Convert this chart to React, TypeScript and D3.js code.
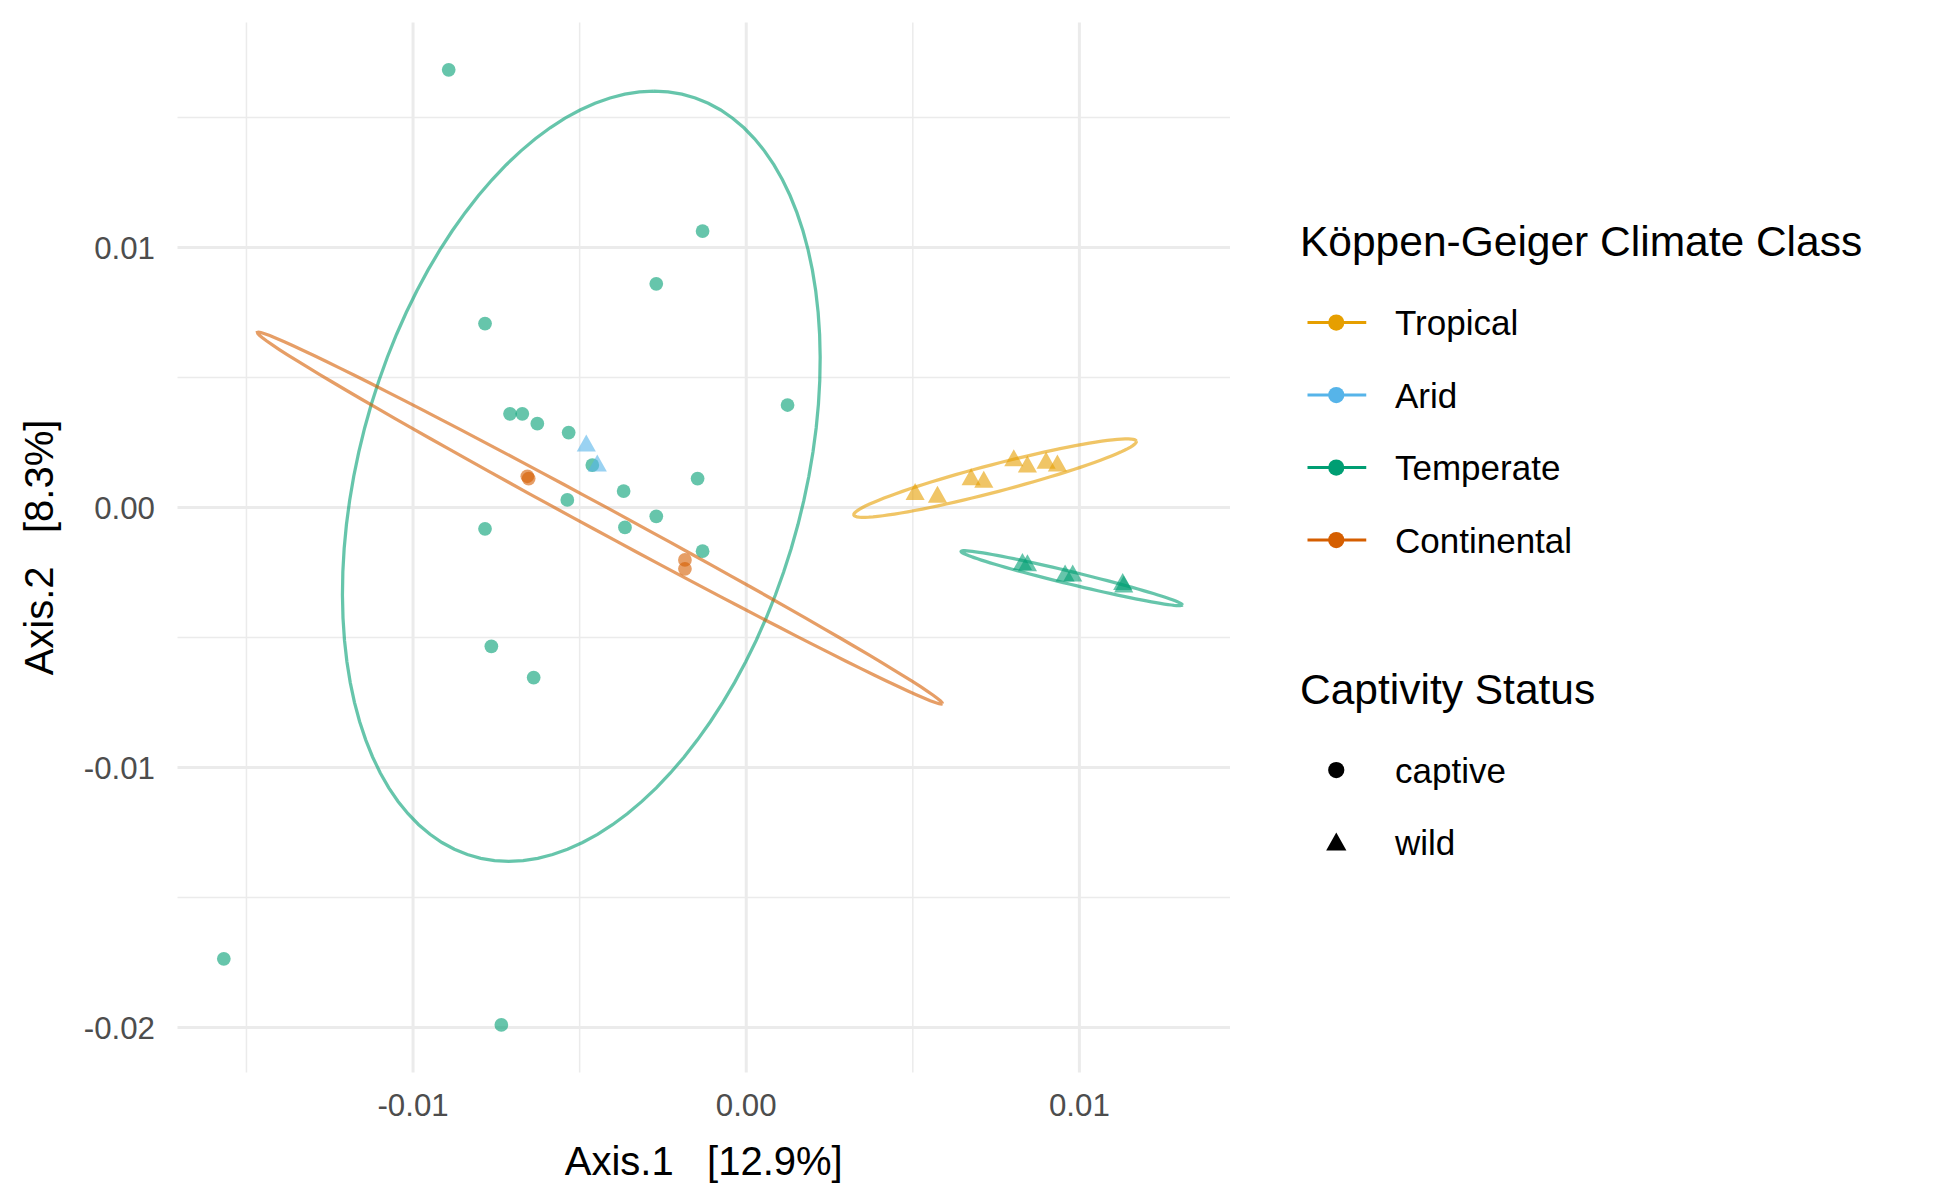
import React from "react";
import * as d3 from "d3";

const xTicks = [-0.01, 0, 0.01];
const xTickLabels = ["-0.01", "0.00", "0.01"];
const yTicks = [0.01, 0, -0.01, -0.02];
const yTickLabels = ["0.01", "0.00", "-0.01", "-0.02"];
const xMinor = [-0.015, -0.005, 0.005];
const yMinor = [0.015, 0.005, -0.005, -0.015];

const climates = ["Tropical", "Arid", "Temperate", "Continental"];
const climateColors = ["#E69F00", "#56B4E9", "#009E73", "#D55E00"];

const temperateCaptive = [
  [-0.00893, 0.01683], [-0.00131, 0.01063], [-0.0027, 0.0086], [-0.00784, 0.00707],
  [0.00124, 0.00394], [-0.00709, 0.0036], [-0.00672, 0.0036], [-0.00627, 0.00322],
  [-0.00533, 0.00288], [-0.00462, 0.00163], [-0.00146, 0.00111], [-0.00368, 0.00063],
  [-0.00537, 0.00029], [-0.0027, -0.00034], [-0.00364, -0.00077], [-0.00784, -0.00082],
  [-0.00131, -0.00168], [-0.00765, -0.00534], [-0.00638, -0.00654], [-0.01568, -0.01736],
  [-0.00735, -0.0199],
];
const continentalCaptive = [[-0.00653, 0.00111], [-0.00657, 0.0012], [-0.00184, -0.00202], [-0.00184, -0.00236]];
const aridWild = [[-0.0048, 0.0024], [-0.00447, 0.00163]];
const tropicalWild = [
  [0.00507, 0.00053], [0.00574, 0.00043], [0.00675, 0.0011], [0.00713, 0.001],
  [0.00803, 0.00183], [0.00844, 0.00159], [0.009, 0.00173], [0.00934, 0.00163],
];
const temperateWild = [
  [0.00829, -0.00216], [0.00844, -0.00221], [0.00957, -0.0026], [0.0098, -0.0026],
  [0.0113, -0.00293], [0.01133, -0.00303],
];

const ellipseCenters = [[-0.00495, 0.0012], [-0.00439, -0.00041], [0.00747, 0.00113], [0.00977, -0.00272]];
const ellipseA = [[0.00218, 0.01481], [0.01028, -0.00714], [0.00424, 0.00142], [0.00332, -0.00103]];
const ellipseB = [[0.00683, 0], [-0.00018, -0.00042], [0.000104, -0.00051], [-0.000044, -0.000234]];
const ellipseColors = ["#009E73", "#D55E00", "#E69F00", "#009E73"];

export default function App() {
  const x = d3.scaleLinear().domain([-0.01707, 0.01452]).range([146, 988]);
  const y = d3.scaleLinear().domain([0.01865, -0.02173]).range([18, 858]);
  const font = "Liberation Sans, Arial, sans-serif";
  const line = d3.line<[number, number]>().x((d) => x(d[0])).y((d) => y(d[1]));

  const ellipsePath = (i: number) => {
    const pts: [number, number][] = d3.range(0, 101).map((k) => {
      const t = (k / 100) * 2 * Math.PI;
      return [
        ellipseCenters[i][0] + ellipseA[i][0] * Math.cos(t) + ellipseB[i][0] * Math.sin(t),
        ellipseCenters[i][1] + ellipseA[i][1] * Math.cos(t) + ellipseB[i][1] * Math.sin(t),
      ];
    });
    return line(pts) || "";
  };

  const tri = (cx: number, cy: number, s: number) =>
    `M${cx},${cy - s}L${cx + s * 0.9},${cy + s * 0.6}L${cx - s * 0.9},${cy + s * 0.6}Z`;

  const circles = (arr: number[][], color: string) =>
    arr.map((d, i) => <circle key={color + i} cx={x(d[0])} cy={y(d[1])} r={5.5} fill={color} fillOpacity={0.6} />);
  const tris = (arr: number[][], color: string) =>
    arr.map((d, i) => <path key={color + "t" + i} d={tri(x(d[0]), y(d[1]), 8.5)} fill={color} fillOpacity={0.6} />);

  return (
    <svg width={1950} height={1200} viewBox="4 0 1560 960" style={{ display: "block", margin: "-8px" }} fontFamily={font}>
      <rect x={0} width={1570} height={960} fill="white" />
      {xMinor.map((v) => <line key={"xm" + v} x1={x(v)} x2={x(v)} y1={18} y2={858} stroke="#ebebeb" strokeWidth={1.2} />)}
      {yMinor.map((v) => <line key={"ym" + v} y1={y(v)} y2={y(v)} x1={146} x2={988} stroke="#ebebeb" strokeWidth={1.2} />)}
      {xTicks.map((v) => <line key={"x" + v} x1={x(v)} x2={x(v)} y1={18} y2={858} stroke="#ebebeb" strokeWidth={2.4} />)}
      {yTicks.map((v) => <line key={"y" + v} y1={y(v)} y2={y(v)} x1={146} x2={988} stroke="#ebebeb" strokeWidth={2.4} />)}
      {xTicks.map((v, i) => (
        <text key={"xl" + v} x={x(v)} y={893} textAnchor="middle" fontSize={25} fill="#4d4d4d">{xTickLabels[i]}</text>
      ))}
      {yTicks.map((v, i) => (
        <text key={"yl" + v} x={128} y={y(v) + 9} textAnchor="end" fontSize={25} fill="#4d4d4d">{yTickLabels[i]}</text>
      ))}
      <text x={567} y={940} textAnchor="middle" fontSize={32} style={{ whiteSpace: "pre" }}>{"Axis.1   [12.9%]"}</text>
      <text transform="translate(46,438) rotate(-90)" textAnchor="middle" fontSize={32} style={{ whiteSpace: "pre" }}>{"Axis.2   [8.3%]"}</text>

      {ellipseCenters.map((_, i) => (
        <path key={"e" + i} d={ellipsePath(i)} fill="none" stroke={ellipseColors[i]} strokeOpacity={0.6} strokeWidth={2.6} />
      ))}
      {circles(temperateCaptive, climateColors[2])}
      {circles(continentalCaptive, climateColors[3])}
      {tris(aridWild, climateColors[1])}
      {tris(tropicalWild, climateColors[0])}
      {tris(temperateWild, climateColors[2])}

      <text x={1044} y={205} fontSize={34}>Köppen-Geiger Climate Class</text>
      {climates.map((c, i) => (
        <g key={c} transform={`translate(0,${258 + i * 58})`}>
          <line x1={1050} x2={1097} y1={0} y2={0} stroke={climateColors[i]} strokeWidth={2.5} />
          <circle cx={1073} cy={0} r={6.5} fill={climateColors[i]} />
          <text x={1120} y={10} fontSize={28}>{c}</text>
        </g>
      ))}
      <text x={1044} y={563} fontSize={34}>Captivity Status</text>
      <circle cx={1073} cy={616} r={6.5} fill="black" />
      <text x={1120} y={626} fontSize={28}>captive</text>
      <path d={tri(1073, 675, 9)} fill="black" />
      <text x={1120} y={684} fontSize={28}>wild</text>
    </svg>
  );
}
